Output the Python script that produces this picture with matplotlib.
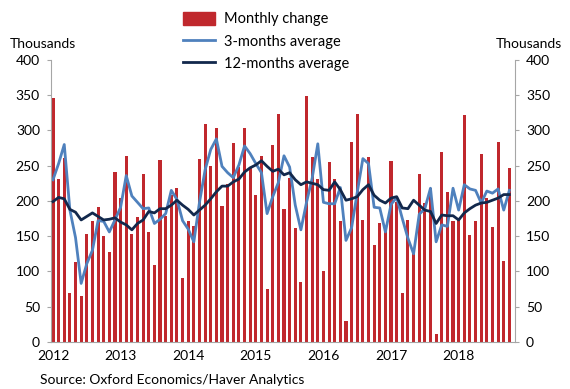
import numpy as np
import matplotlib.pyplot as plt
from matplotlib.patches import Patch
from matplotlib.lines import Line2D

plt.rcParams['font.family'] = ['Lato', 'DejaVu Sans']

#月度非农就业变化，2012年1月 - 2018年10月（千人）
monthly = [346, 231, 261, 69, 114, 65, 153, 171, 191, 150, 128, 241,
           204, 264, 153, 177, 238, 156, 109, 258, 179, 208, 218, 90,
           172, 164, 259, 309, 250, 304, 193, 224, 282, 248, 304, 248,
           208, 264, 75, 280, 323, 188, 232, 161, 85, 349, 262, 231,
           101, 255, 231, 172, 30, 283, 323, 173, 262, 138, 169, 160,
           257, 198, 70, 173, 132, 238, 197, 218, 11, 269, 213, 172,
           176, 322, 152, 172, 266, 204, 163, 283, 115, 247]

#3个月平均
avg3 = [230, 253, 280, 187, 148, 83, 111, 130, 172, 171, 156, 173,
        191, 236, 207, 198, 189, 190, 168, 174, 182, 215, 202, 172,
        160, 142, 198, 244, 273, 288, 249, 240, 233, 251, 278, 267,
        253, 240, 182, 206, 226, 264, 248, 194, 159, 198, 232, 281,
        198, 196, 196, 219, 144, 162, 212, 260, 253, 191, 190, 156,
        195, 205, 175, 147, 125, 181, 189, 218, 142, 166, 164, 218,
        187, 223, 217, 215, 197, 214, 211, 217, 187, 215]

#12个月平均
avg12 = [199, 205, 203, 188, 184, 173, 178, 183, 178, 173, 174, 176,
         170, 166, 159, 168, 173, 185, 183, 189, 189, 194, 201, 194,
         188, 180, 187, 194, 203, 213, 221, 221, 227, 231, 241, 247,
         251, 257, 249, 242, 245, 237, 240, 230, 223, 227, 225, 223,
         216, 215, 227, 216, 201, 203, 206, 216, 223, 208, 201, 197,
         204, 206, 190, 189, 201, 194, 187, 185, 168, 180, 179, 179,
         173, 183, 189, 194, 197, 198, 201, 204, 209, 209]

years = ['2012', '2013', '2014', '2015', '2016', '2017', '2018']
yticks = [0, 50, 100, 150, 200, 250, 300, 350, 400]

red = '#C0282D'
lightblue = '#4F81BD'
navy = '#12284C'
grey = '#A6A6A6'

x = np.arange(len(monthly))

fig = plt.figure(figsize=(5.7, 3.89), dpi=100)
ax = fig.add_axes([0.0895, 0.121, 0.814, 0.725])

ax.bar(x, monthly, width=0.55, color=red, zorder=1)
ax.plot(x, avg3, color=lightblue, lw=2.0, zorder=2)
ax.plot(x, avg12, color=navy, lw=2.0, zorder=3)

ax.set_xlim(-0.35, 82.0)
ax.set_ylim(0, 400)
ax.set_yticks(yticks)
ax.set_xticks(np.arange(0, 84, 12))
ax.set_xticklabels(years)

#左右两侧都有刻度
ax.tick_params(axis='y', labelsize=10, color=grey, length=3, pad=5,
               labelcolor='black', right=True, labelright=True)
ax.tick_params(axis='x', labelsize=10, length=0, pad=6)

for s in ['left', 'right', 'bottom']:
	ax.spines[s].set_color(grey)
	ax.spines[s].set_linewidth(0.8)
ax.spines['top'].set_visible(False)

fig.text(10/570, 1-44/389, 'Thousands', fontsize=10, ha='left', va='center')
fig.text(562/570, 1-44/389, 'Thousands', fontsize=10, ha='right', va='center')
fig.text(40/570, 1-380/389, 'Source: Oxford Economics/Haver Analytics',
         fontsize=10, ha='left', va='center')

handles = [Patch(facecolor=red, edgecolor=red),
           Line2D([], [], color=lightblue, lw=2.0),
           Line2D([], [], color=navy, lw=2.0)]
labels = ['Monthly change', '3-months average', '12-months average']
fig.legend(handles, labels, loc='upper left', bbox_to_anchor=(183/570, 1-12/389),
           frameon=False, fontsize=10.5, handlelength=2.2, handleheight=0.95,
           handletextpad=0.6, labelspacing=0.55, borderpad=0, borderaxespad=0)

fig.savefig('out.png', dpi=100)
